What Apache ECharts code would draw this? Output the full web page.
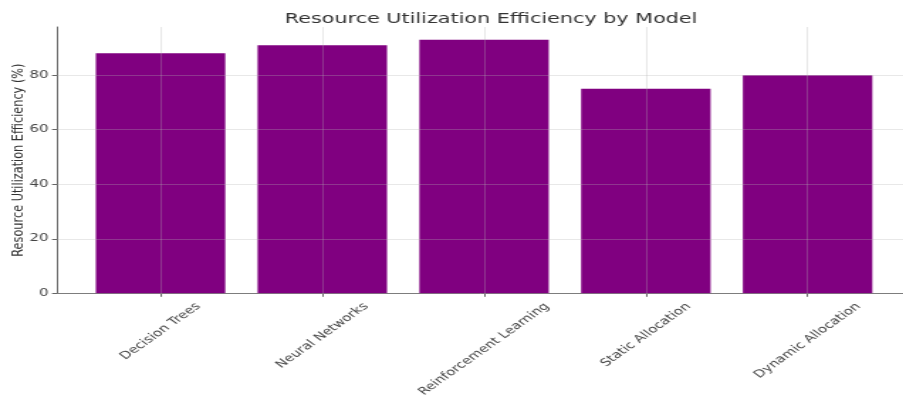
<!DOCTYPE html>
<html>
<head>
<meta charset="utf-8">
<script src="https://cdn.jsdelivr.net/npm/echarts@6/dist/echarts.min.js"></script>
<style>
  html, body { margin: 0; padding: 0; background: #fff; overflow: hidden; }
  #chart { transform-origin: 0 0; }
</style>
</head>
<body>
<div id="chart"></div>
<script>
// Data
const categories = ['Decision Trees', 'Neural Networks', 'Reinforcement Learning', 'Static Allocation', 'Dynamic Allocation'];
const efficiency = [88, 91, 93, 75, 80];
const yTicks = [0, 20, 40, 60, 80];

// The figure is drawn on a narrower canvas and widened horizontally.
const SX = 1.42;
const PAGE_W = 903, PAGE_H = 405;
const FONT = 'DejaVu Sans';
const TICK_FS = 10.5;

const el = document.getElementById('chart');
el.style.width = (PAGE_W / SX) + 'px';
el.style.height = PAGE_H + 'px';
el.style.transform = 'scaleX(' + SX + ')';

// Plot box (page pixels); the right edge runs past the page
const plotLeft = 57, plotRight = 911, plotTop = 27, plotBottom = 293.3;
const gridLeft = plotLeft / SX;
const gridRight = (PAGE_W - plotRight) / SX;
const gridWidth = (plotRight - plotLeft) / SX;

// Axis limits with the usual 5% data margin
const xMin = -0.4 - 0.24, xMax = categories.length - 1 + 0.4 + 0.24;
const yMax = Math.max(...efficiency) * 1.05;

// Rotated tick labels are centred under their tick: pad each label so its
// rotated bounding box hangs straight below the tick.
const ctx = document.createElement('canvas').getContext('2d');
ctx.font = TICK_FS + 'px "' + FONT + '"';
const rich = {};
categories.forEach((c, i) => {
  const L = ctx.measureText(c).width;
  const h = TICK_FS * 1.2;
  const p = (L + h) / 2;
  rich['c' + i] = {
    fontFamily: FONT, fontSize: TICK_FS, color: '#444',
    padding: [p, p, 0, 0]
  };
});

const chart = echarts.init(el, null, { renderer: 'canvas' });
chart.setOption({
  backgroundColor: '#fff',
  animation: false,
  title: {
    text: 'Resource Utilization Efficiency by Model',
    left: gridLeft + gridWidth / 2,
    textAlign: 'center',
    top: 7,
    textStyle: { fontFamily: FONT, fontSize: 14.6, fontWeight: 'normal', color: '#333' }
  },
  grid: {
    left: gridLeft,
    right: gridRight,
    top: plotTop,
    bottom: PAGE_H - plotBottom,
    containLabel: false,
    outerBoundsMode: 'none'
  },
  xAxis: {
    type: 'value',
    min: xMin,
    max: xMax,
    axisLine: { show: true, onZero: false, lineStyle: { color: '#666', width: 1 } },
    axisTick: { show: true, length: 3.5, customValues: categories.map((c, i) => i), lineStyle: { color: '#666' } },
    splitLine: { show: false },
    axisLabel: {
      customValues: categories.map((c, i) => i),
      rotate: 45,
      align: 'center',
      verticalAlign: 'middle',
      margin: 7,
      fontFamily: FONT,
      fontSize: TICK_FS,
      color: '#444',
      formatter: v => '{c' + v + '|' + categories[v] + '}',
      rich: rich
    }
  },
  yAxis: {
    type: 'value',
    min: 0,
    max: yMax,
    name: 'Resource Utilization Efficiency (%)',
    nameLocation: 'middle',
    nameGap: 22,
    nameMoveOverlap: false,
    nameTextStyle: { fontFamily: FONT, fontSize: 11.3, color: '#333' },
    axisLine: { show: true, onZero: false, lineStyle: { color: '#666', width: 1 } },
    axisTick: { show: true, length: 3.5, customValues: yTicks, lineStyle: { color: '#666' } },
    axisLabel: {
      customValues: yTicks,
      margin: 6,
      fontFamily: FONT,
      fontSize: TICK_FS,
      color: '#444'
    },
    splitLine: { show: false }
  },
  series: [{
    type: 'bar',
    data: categories.map((c, i) => [i, efficiency[i]]),
    barWidth: '80%',
    itemStyle: { color: '#800080' },
    markLine: {
      silent: true,
      symbol: 'none',
      label: { show: false },
      lineStyle: { color: 'rgba(180,180,180,0.3)', width: 1, type: 'solid' },
      data: yTicks.map(v => ({ yAxis: v })).concat(categories.map((c, i) => ({ xAxis: i })))
    }
  }]
});
</script>
</body>
</html>
